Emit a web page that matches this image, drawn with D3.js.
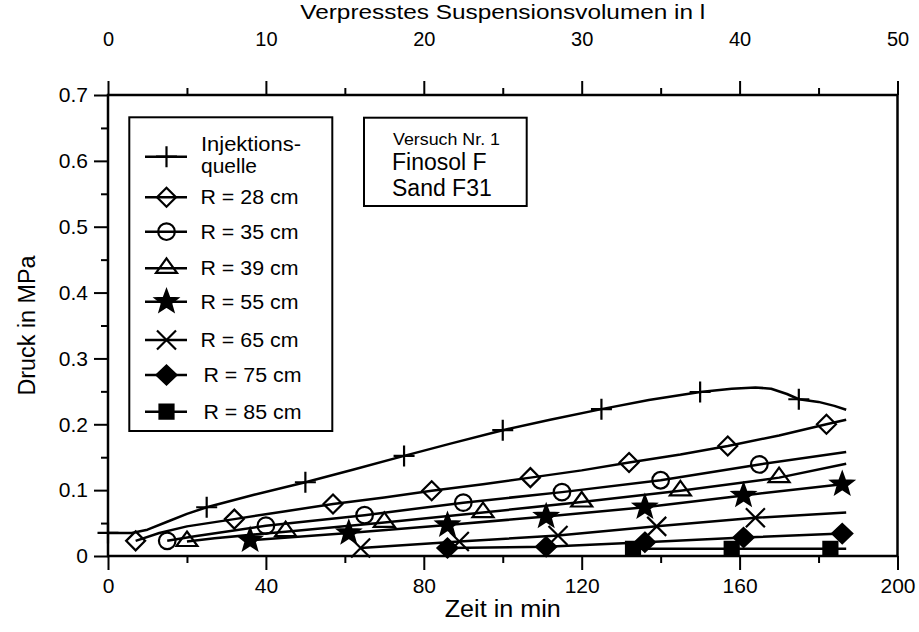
<!DOCTYPE html>
<html><head><meta charset="utf-8">
<script src="https://cdn.jsdelivr.net/npm/d3@7"></script>
<style>
body{margin:0;background:#fff}
svg{display:block}
text{font-family:"Liberation Sans",Arial,sans-serif;fill:#000}
</style>
</head><body>
<svg id="chart" width="919" height="632"></svg>
<script>
// ---------- data ----------
const xMajorTicks = [0, 40, 80, 120, 160, 200];
const xMinorTicks = [20, 60, 100, 140, 180];
const topMajorTicks = [0, 10, 20, 30, 40, 50];
const topMinorTicks = [5, 15, 25, 35, 45];
const yMajorTicks = [0, 0.1, 0.2, 0.3, 0.4, 0.5, 0.6, 0.7];
const yMinorTicks = [0.05, 0.15, 0.25, 0.35, 0.45, 0.55, 0.65];

const legendLabels = ["Injektions-|quelle", "R = 28 cm", "R = 35 cm", "R = 39 cm", "R = 55 cm", "R = 65 cm", "R = 75 cm", "R = 85 cm"];
const infoLines = ["Versuch Nr. 1", "Finosol F", "Sand F31"];

// Injektionsquelle (+)
const injT = [0, 6, 10, 15, 20, 25, 37, 50, 62, 75, 87, 100, 112, 125, 137, 150, 158, 164, 168, 172, 175, 180, 184, 187];
const injV = [0.035, 0.035, 0.040, 0.052, 0.064, 0.074, 0.093, 0.112, 0.131, 0.152, 0.171, 0.191, 0.207, 0.223, 0.237, 0.249, 0.254, 0.256, 0.254, 0.246, 0.238, 0.234, 0.228, 0.222];
const injM = [0, 25, 50, 75, 100, 125, 150, 175];
// R = 28 cm (open diamond)
const r28T = [7, 13, 20, 32, 45, 57, 70, 82, 95, 107, 120, 132, 145, 157, 170, 182, 187];
const r28V = [0.023, 0.035, 0.045, 0.056, 0.068, 0.079, 0.089, 0.099, 0.109, 0.119, 0.130, 0.142, 0.154, 0.167, 0.183, 0.200, 0.207];
const r28M = [7, 32, 57, 82, 107, 132, 157, 182];
// R = 35 cm (open circle)
const r35T = [15, 22, 40, 65, 90, 115, 140, 165, 187];
const r35V = [0.023, 0.030, 0.046, 0.062, 0.081, 0.097, 0.115, 0.139, 0.158];
const r35M = [15, 40, 65, 90, 115, 140, 165];
// R = 39 cm (open triangle)
const r39T = [20, 27, 45, 70, 95, 120, 145, 170, 187];
const r39V = [0.022, 0.027, 0.037, 0.051, 0.066, 0.082, 0.099, 0.119, 0.140];
const r39M = [20, 45, 70, 95, 120, 145, 170];
// R = 55 cm (star)
const r55T = [36, 61, 86, 111, 136, 161, 186, 187];
const r55V = [0.024, 0.035, 0.047, 0.060, 0.074, 0.092, 0.109, 0.109];
const r55M = [36, 61, 86, 111, 136, 161, 186];
// R = 65 cm (x)
const r65T = [64, 89, 114, 139, 164, 187];
const r65V = [0.012, 0.022, 0.031, 0.045, 0.058, 0.066];
const r65M = [64, 89, 114, 139, 164];
// R = 75 cm (filled diamond)
const r75T = [86, 111, 136, 161, 186, 187];
const r75V = [0.012, 0.014, 0.021, 0.028, 0.034, 0.034];
const r75M = [86, 111, 136, 161, 186];
// R = 85 cm (filled square)
const r85T = [133, 158, 183, 187];
const r85V = [0.011, 0.011, 0.011, 0.011];
const r85M = [133, 158, 183];

// ---------- symbols ----------
function starPath(ro, ri) {
  let p = "";
  for (let i = 0; i < 10; i++) {
    const r = i % 2 ? ri : ro;
    const a = (-90 + i * 36) * Math.PI / 180;
    p += (i ? "L" : "M") + (r * Math.cos(a)).toFixed(2) + "," + (r * Math.sin(a)).toFixed(2);
  }
  return p + "Z";
}
const symbols = {
  plus:    {d: "M-10.5,0H10.5M0,-10.5V10.5", fill: "none"},
  diamond: {d: "M0,-9.5L9.5,0L0,9.5L-9.5,0Z", fill: "none"},
  circle:  {d: "M8.3,0A8.3,8.3 0 1,1 -8.3,0A8.3,8.3 0 1,1 8.3,0Z", fill: "none"},
  triangle:{d: "M0,-10L10.5,4.5L-10.5,4.5Z", fill: "none"},
  star:    {d: starPath(11.5, 4.8), fill: "#000"},
  cross:   {d: "M-9.5,-9.5L9.5,9.5M-9.5,9.5L9.5,-9.5", fill: "none"},
  diamondF:{d: "M0,-9.5L10,0L0,9.5L-10,0Z", fill: "#000"},
  square:  {d: "M-7,-7H7V7H-7Z", fill: "#000"}
};

const zip = (t, v) => t.map((d, i) => [d, v[i]]);
const series = [
  {pts: zip(injT, injV), m: injM, sym: "plus"},
  {pts: zip(r28T, r28V), m: r28M, sym: "diamond"},
  {pts: zip(r35T, r35V), m: r35M, sym: "circle"},
  {pts: zip(r39T, r39V), m: r39M, sym: "triangle"},
  {pts: zip(r55T, r55V), m: r55M, sym: "star"},
  {pts: zip(r65T, r65V), m: r65M, sym: "cross"},
  {pts: zip(r75T, r75V), m: r75M, sym: "diamondF"},
  {pts: zip(r85T, r85V), m: r85M, sym: "square"}
];

// ---------- layout ----------
const svg = d3.select("#chart");
const L = 108, R = 897.5, T = 95, B = 556;
const x = d3.scaleLinear().domain([0, 200]).range([L, R]);
const xTop = d3.scaleLinear().domain([0, 50]).range([L, R]);
const y = d3.scaleLinear().domain([0, 0.7]).range([B, T]);

function styleAxis(fs) {
  return g => {
    g.select(".domain").remove();
    g.selectAll(".tick line").attr("stroke", "#000").attr("stroke-width", 2);
    g.selectAll(".tick text").attr("font-size", fs).attr("font-family", "Liberation Sans, Arial, sans-serif").attr("fill", "#000");
  };
}

// bottom
svg.append("g").attr("transform", `translate(0,${B})`)
  .call(d3.axisBottom(x).tickValues(xMajorTicks).tickSize(14).tickPadding(8).tickFormat(d3.format("d")))
  .call(styleAxis(21));
svg.append("g").attr("transform", `translate(0,${B})`)
  .call(d3.axisBottom(x).tickValues(xMinorTicks).tickSize(7).tickFormat(""))
  .call(styleAxis(21));
// top
svg.append("g").attr("transform", `translate(0,${T})`)
  .call(d3.axisTop(xTop).tickValues(topMajorTicks).tickSize(14).tickPadding(35).tickFormat(d3.format("d")))
  .call(styleAxis(20));
svg.append("g").attr("transform", `translate(0,${T})`)
  .call(d3.axisTop(xTop).tickValues(topMinorTicks).tickSize(7).tickFormat(""))
  .call(styleAxis(20));
// left
svg.append("g").attr("transform", `translate(${L},0)`)
  .call(d3.axisLeft(y).tickValues(yMajorTicks).tickSize(14).tickPadding(6).tickFormat(d => d === 0 ? "0" : d3.format(".1f")(d)))
  .call(styleAxis(21));
svg.append("g").attr("transform", `translate(${L},0)`)
  .call(d3.axisLeft(y).tickValues(yMinorTicks).tickSize(7).tickFormat(""))
  .call(styleAxis(21));

// frame
svg.append("rect").attr("x", L).attr("y", T).attr("width", R - L).attr("height", B - T)
  .attr("fill", "none").attr("stroke", "#000").attr("stroke-width", 2.5);

// axis titles
svg.append("text").attr("x", (L + R) / 2).attr("y", 19).attr("text-anchor", "middle")
  .attr("font-size", 20).attr("textLength", 405).attr("lengthAdjust", "spacingAndGlyphs")
  .text("Verpresstes Suspensionsvolumen in l");
svg.append("text").attr("x", (L + R) / 2).attr("y", 617).attr("text-anchor", "middle")
  .attr("font-size", 23).attr("textLength", 116).attr("lengthAdjust", "spacingAndGlyphs").text("Zeit in min");
svg.append("text").attr("transform", `translate(35,${(T + B) / 2}) rotate(-90)`).attr("text-anchor", "middle")
  .attr("font-size", 23).attr("textLength", 140).attr("lengthAdjust", "spacingAndGlyphs").text("Druck in MPa");

// curves
const line = d3.line().x(d => x(d[0])).y(d => y(d[1]));
const gLines = svg.append("g");
series.forEach(s => {
  gLines.append("path").datum(s.pts).attr("d", line)
    .attr("fill", "none").attr("stroke", "#000").attr("stroke-width", 2.5).attr("stroke-linejoin", "round");
});
const gMarks = svg.append("g");
series.forEach(s => {
  const sym = symbols[s.sym];
  const mpts = s.pts.filter(p => s.m.includes(p[0]));
  gMarks.selectAll(null).data(mpts).enter().append("path")
    .attr("transform", d => `translate(${x(d[0])},${y(d[1])})`)
    .attr("d", sym.d).attr("fill", sym.fill).attr("stroke", "#000").attr("stroke-width", 2.2);
});

// legend
const legendMarkerY = [156.7, 197.3, 231.7, 268.3, 301.7, 340, 375, 411.7];
const legendTextX = [201, 200.5, 200.5, 200.5, 200.5, 200.5, 203.5, 203.5];
const gLeg = svg.append("g");
gLeg.append("rect").attr("x", 129.3).attr("y", 117.3).attr("width", 203).attr("height", 313.7)
  .attr("fill", "#fff").attr("stroke", "#000").attr("stroke-width", 2);
series.forEach((s, i) => {
  const my = legendMarkerY[i];
  gLeg.append("line").attr("x1", 145).attr("x2", 187).attr("y1", my).attr("y2", my)
    .attr("stroke", "#000").attr("stroke-width", 2.5);
  const sym = symbols[s.sym];
  gLeg.append("path").attr("transform", `translate(166.5,${my})`).attr("d", sym.d)
    .attr("fill", sym.fill).attr("stroke", "#000").attr("stroke-width", 2.2);
  const parts = legendLabels[i].split("|");
  if (parts.length === 2) {
    gLeg.append("text").attr("x", legendTextX[i]).attr("y", 150.5).attr("font-size", 20)
      .attr("textLength", 100).attr("lengthAdjust", "spacingAndGlyphs").text(parts[0]);
    gLeg.append("text").attr("x", legendTextX[i]).attr("y", 173).attr("font-size", 20)
      .attr("textLength", 56).attr("lengthAdjust", "spacingAndGlyphs").text(parts[1]);
  } else {
    gLeg.append("text").attr("x", legendTextX[i]).attr("y", my + 7).attr("font-size", 19.5)
      .attr("textLength", 98).attr("lengthAdjust", "spacingAndGlyphs").text(parts[0]);
  }
});

// info box
const gInfo = svg.append("g");
gInfo.append("rect").attr("x", 364).attr("y", 117.7).attr("width", 162.7).attr("height", 88.3)
  .attr("fill", "#fff").attr("stroke", "#000").attr("stroke-width", 2);
gInfo.append("text").attr("x", 393).attr("y", 145).attr("font-size", 17)
  .attr("textLength", 107).attr("lengthAdjust", "spacingAndGlyphs").text(infoLines[0]);
gInfo.append("text").attr("x", 392).attr("y", 170).attr("font-size", 23).text(infoLines[1]);
gInfo.append("text").attr("x", 392).attr("y", 195.5).attr("font-size", 23).text(infoLines[2]);
</script>
</body></html>
